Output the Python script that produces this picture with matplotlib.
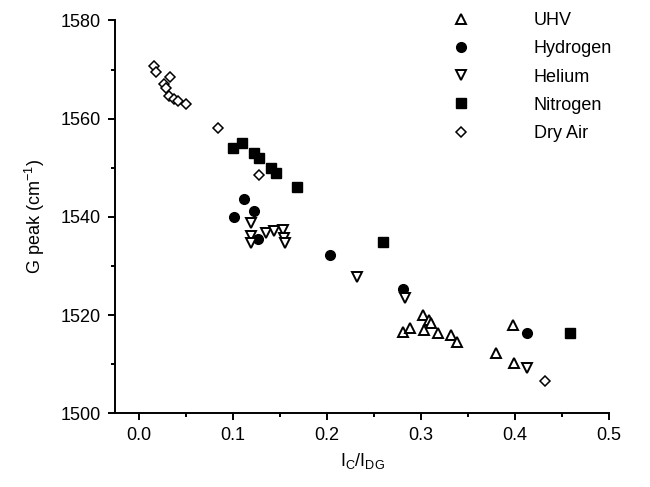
import matplotlib
matplotlib.use('Agg')
import matplotlib.pyplot as plt
from matplotlib.ticker import MultipleLocator

plt.rcParams['font.family'] = ['Liberation Sans', 'DejaVu Sans']
plt.rcParams['mathtext.fontset'] = 'custom'
plt.rcParams['mathtext.rm'] = 'Liberation Sans'

# G peak position vs. I_C/I_DG for each atmosphere
uhv_x = [0.281, 0.288, 0.302, 0.309, 0.311, 0.303, 0.318, 0.332, 0.338, 0.380, 0.398, 0.399]
uhv_y = [1516.5, 1517.3, 1520.0, 1519.1, 1518.5, 1516.9, 1516.4, 1516.0, 1514.6, 1512.3, 1518.0, 1510.2]

hyd_x = [0.101, 0.112, 0.123, 0.127, 0.203, 0.281, 0.413]
hyd_y = [1540.0, 1543.7, 1541.3, 1535.5, 1532.2, 1525.4, 1516.3]

hel_x = [0.119, 0.119, 0.120, 0.135, 0.144, 0.153, 0.155, 0.156, 0.232, 0.283, 0.413]
hel_y = [1538.8, 1536.1, 1534.8, 1536.7, 1537.1, 1537.4, 1535.8, 1534.7, 1527.7, 1523.6, 1509.2]

nit_x = [0.100, 0.110, 0.123, 0.128, 0.141, 0.146, 0.168, 0.260, 0.458]
nit_y = [1554.0, 1555.1, 1553.0, 1552.1, 1550.0, 1549.0, 1546.0, 1535.0, 1516.4]

air_x = [0.016, 0.019, 0.033, 0.027, 0.029, 0.032, 0.038, 0.042, 0.050, 0.084, 0.128, 0.432]
air_y = [1570.8, 1569.5, 1568.4, 1567.1, 1566.2, 1564.6, 1564.0, 1563.6, 1562.9, 1558.1, 1548.5, 1506.6]

fs = 13

fig = plt.figure(figsize=(6.5, 4.87), dpi=100)
ax = fig.add_axes([0.177, 0.151, 0.760, 0.807])

ax.plot(uhv_x, uhv_y, ls='none', marker='^', ms=7.5, mfc='white', mec='black', mew=1.4, label='UHV')
ax.plot(hyd_x, hyd_y, ls='none', marker='o', ms=7, mfc='black', mec='black', label='Hydrogen')
ax.plot(hel_x, hel_y, ls='none', marker='v', ms=7.5, mfc='white', mec='black', mew=1.4, label='Helium')
ax.plot(nit_x, nit_y, ls='none', marker='s', ms=6.5, mfc='black', mec='black', label='Nitrogen')
ax.plot(air_x, air_y, ls='none', marker='D', ms=5.5, mfc='white', mec='black', mew=1.1, label='Dry Air')

ax.set_xlim(-0.025, 0.5)
ax.set_ylim(1500, 1580)
ax.xaxis.set_major_locator(MultipleLocator(0.1))
ax.xaxis.set_minor_locator(MultipleLocator(0.05))
ax.yaxis.set_major_locator(MultipleLocator(20))
ax.yaxis.set_minor_locator(MultipleLocator(10))
ax.xaxis.set_major_formatter(plt.FuncFormatter(lambda v, p: f'{v:.1f}'))

for s in ['top', 'right']:
    ax.spines[s].set_visible(False)
for s in ['left', 'bottom']:
    ax.spines[s].set_linewidth(1.4)
ax.tick_params(which='major', direction='out', length=5, width=1.4, labelsize=fs, pad=5)
ax.tick_params(which='minor', direction='out', length=3, width=1.4)

ax.set_xlabel(r'$\mathregular{I_C/I_{DG}}$', fontsize=fs, labelpad=5)
ax.set_ylabel(r'G peak (cm$^{\mathregular{-1}}$)', fontsize=fs, labelpad=10)

ax.legend(loc='upper left', bbox_to_anchor=(0.688, 0.975), bbox_transform=fig.transFigure,
          frameon=False, fontsize=fs, handletextpad=3.3, labelspacing=0.62,
          handlelength=1.5, borderpad=0, borderaxespad=0)

fig.savefig('out.png', dpi=100)
